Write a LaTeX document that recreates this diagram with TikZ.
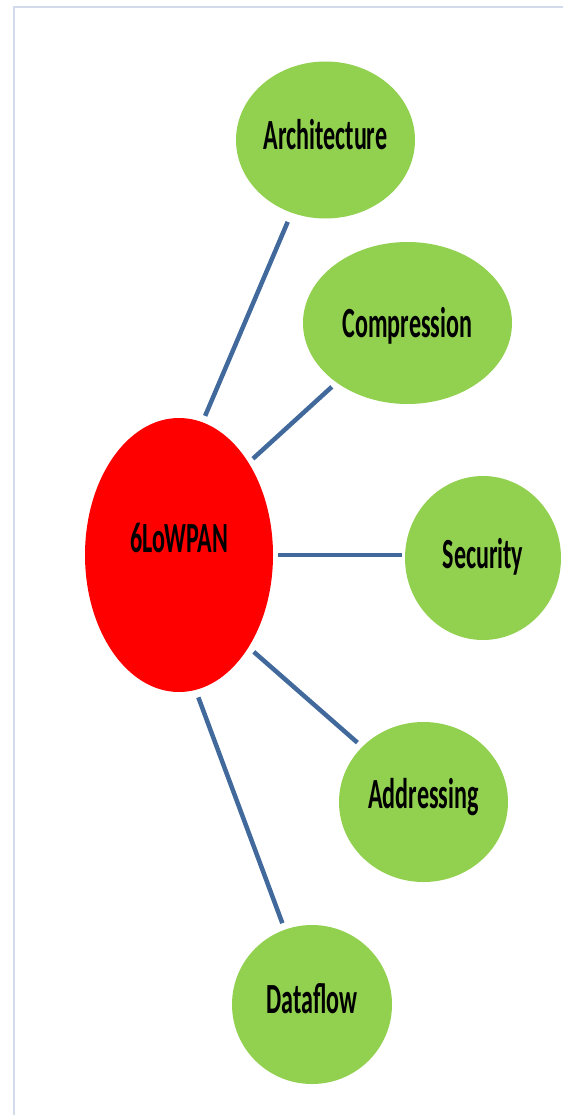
\documentclass[tikz,border=0pt]{standalone}
\usepackage{fontspec}
\setmainfont{Carlito}
\usetikzlibrary{shapes.geometric}
\definecolor{leafgreen}{HTML}{92D050}
\definecolor{hubred}{HTML}{FF0000}
\definecolor{spoke}{HTML}{41699B}
\definecolor{framecol}{HTML}{D3DBEA}
\newcommand{\bubbletext}[1]{\scalebox{0.56}[1]{\fontsize{43}{43}\selectfont\bfseries #1}}
\tikzset{
  bubble/.style={ellipse, fill=leafgreen, draw=none, inner sep=0pt, outer sep=0pt},
  hub/.style={ellipse, fill=hubred, draw=none, inner sep=0pt, outer sep=0pt},
  caption/.style={anchor=base, inner sep=0pt, text=black},
  link/.style={draw=spoke, line width=4.5pt},
}
\begin{document}
\begin{tikzpicture}[x=1pt, y=-1pt]
\useasboundingbox (0,0) rectangle (562,1115);
% page frame
\draw[framecol, line width=2pt] (14,1120) -- (14,7) -- (570,7);

% hub
\node[hub, minimum width=188pt, minimum height=274pt] (c) at (179,555) {};
\node[caption] (ct) at (179,552) {\bubbletext{6LoWPAN}};

% topics
\node[bubble, minimum width=179pt, minimum height=157pt] (arch) at (325.5,140) {};
\node[caption] (archt) at (325.5,150) {\bubbletext{Architecture}};

\node[bubble, minimum width=209pt, minimum height=162pt] (comp) at (407.5,323) {};
\node[caption] (compt) at (407.5,337) {\bubbletext{Compression}};

\node[bubble, minimum width=156pt, minimum height=164pt] (sec) at (483,558) {};
\node[caption] (sect) at (483,568) {\bubbletext{Security}};

\node[bubble, minimum width=169pt, minimum height=160pt] (addr) at (423.5,802) {};
\node[caption] (addrt) at (423.5,808) {\bubbletext{Addressing}};

\node[bubble, minimum width=160pt, minimum height=159pt] (data) at (312,1004.5) {};
\node[caption] (datat) at (312,1013) {\bubbletext{Dataflow}};

% spokes
\draw[link, shorten <=7pt, shorten >=10pt] (c.80.7) -- (arch.245.4);
\draw[link, shorten <=6pt, shorten >=6.5pt] (c.53) -- (comp.220.3);
\draw[link, shorten <=5pt, shorten >=3pt] (c.0) -- (c.0 -| sec.west);
\draw[link, shorten <=7pt, shorten >=6.5pt] (c.-53) -- (addr.138.4);
\draw[link, shorten <=8pt, shorten >=7pt] (c.-83.6) -- (data.110.8);
\end{tikzpicture}
\end{document}
